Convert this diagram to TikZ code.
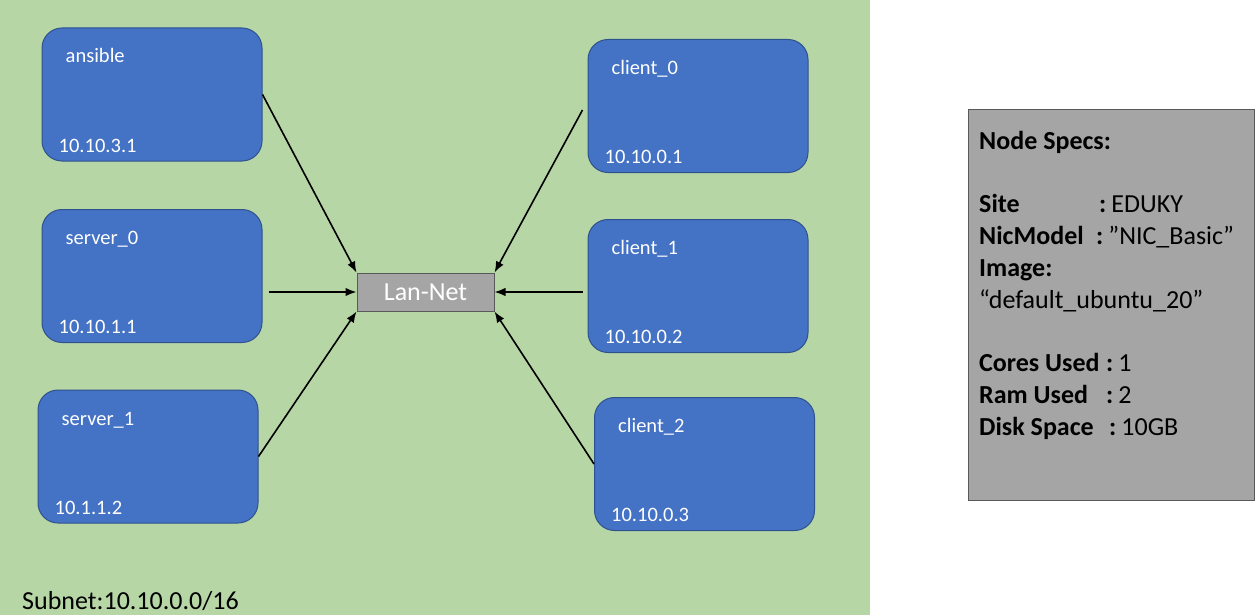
\documentclass[tikz,border=0pt]{standalone}
\usepackage{fontspec}
\setmainfont{Carlito}
\usetikzlibrary{arrows.meta}
\definecolor{bggreen}{HTML}{B7D6A6}
\definecolor{vmblue}{HTML}{4472C4}
\definecolor{vmborder}{HTML}{2F528F}
\definecolor{langray}{HTML}{A5A5A5}
\definecolor{lanborder}{HTML}{595959}
\tikzset{
  vm/.style={draw=vmborder, fill=vmblue, line width=1pt, rounded corners=20pt,
    minimum width=220pt, minimum height=133pt, inner sep=0pt},
  vmtext/.style={text=white, font=\fontsize{20.5}{24}\selectfont, anchor=base west, inner sep=0pt},
  lan/.style={draw=lanborder, fill=langray, line width=1pt, minimum width=137pt,
    minimum height=38pt, inner sep=0pt, text=white, font=\fontsize{26}{30}\selectfont},
  arr/.style={line width=1.6pt, -{Latex[length=11pt,width=8.5pt]}},
  spec/.style={font=\fontsize{26}{30}\selectfont, anchor=base west, inner sep=0pt}
}
\begin{document}
\begin{tikzpicture}[x=1pt,y=-1pt]
\useasboundingbox (0,0) rectangle (1257,615);
\fill[bggreen] (0,0) rectangle (870,615);

% VM boxes
\node[vm] (ansible) at (152,94.5) {};
\node[vm] (server0) at (152,276) {};
\node[vm] (server1) at (148,456.5) {};
\node[vm] (client0) at (698,106) {};
\node[vm] (client1) at (698,286) {};
\node[vm] (client2) at (704.5,464) {};

% labels
\foreach \n/\name/\ip in {ansible/ansible/10.10.3.1, server0/server\_0/10.10.1.1,
    server1/server\_1/10.1.1.2, client0/client\_0/10.10.0.1,
    client1/client\_1/10.10.0.2, client2/client\_2/10.10.0.3}{
  \node[vmtext] (\n-name) at ([xshift=24pt,yshift=-35.5pt]\n.north west) {\name};
  \node[vmtext] (\n-ip) at ([xshift=17pt,yshift=9.5pt]\n.south west) {\ip};
}

% Lan-Net
\node[lan] (lan) at (425.5,292) {Lan-Net};

% arrows
\draw[arr] (ansible.east) -- (lan.north west);
\draw[arr] ([xshift=6pt,yshift=-16pt]server0.east) -- (lan.west);
\draw[arr] (server1.east) -- (lan.south west);
\draw[arr] ([xshift=-5pt,yshift=-4pt]client0.west) -- (lan.north east);
\draw[arr] ([xshift=-5pt,yshift=-6pt]client1.west) -- (lan.east);
\draw[arr] (client2.west) -- (lan.south east);

% subnet label
\node[spec] (subnet) at (22,609) {Subnet:10.10.0.0/16};

% specs box
\node[draw=lanborder, fill=langray, line width=1pt, minimum width=286pt,
  minimum height=390pt, inner sep=0pt] (specs) at (1111,305) {};
\node[spec] (s0) at (979,149) {\bfseries Node Specs:};
\node[spec] (s1) at (979,212.5) {\makebox[120pt][l]{\bfseries Site}{\bfseries :}\hspace{5pt}EDUKY};
\node[spec] (s2) at (979,244.3) {\makebox[117pt][l]{\bfseries NicModel}{\bfseries :}\hspace{5pt}”NIC\_Basic”};
\node[spec] (s3) at (979,276) {\bfseries Image:};
\node[spec] (s4) at (979,308) {“default\_ubuntu\_20”};
\node[spec] (s5) at (979,371.5) {\makebox[127pt][l]{\bfseries Cores Used}{\bfseries :}\hspace{5pt}1};
\node[spec] (s6) at (979,403.3) {\makebox[127pt][l]{\bfseries Ram Used}{\bfseries :}\hspace{5pt}2};
\node[spec] (s7) at (979,435) {\makebox[130pt][l]{\bfseries Disk Space}{\bfseries :}\hspace{5pt}10GB};
\end{tikzpicture}
\end{document}
